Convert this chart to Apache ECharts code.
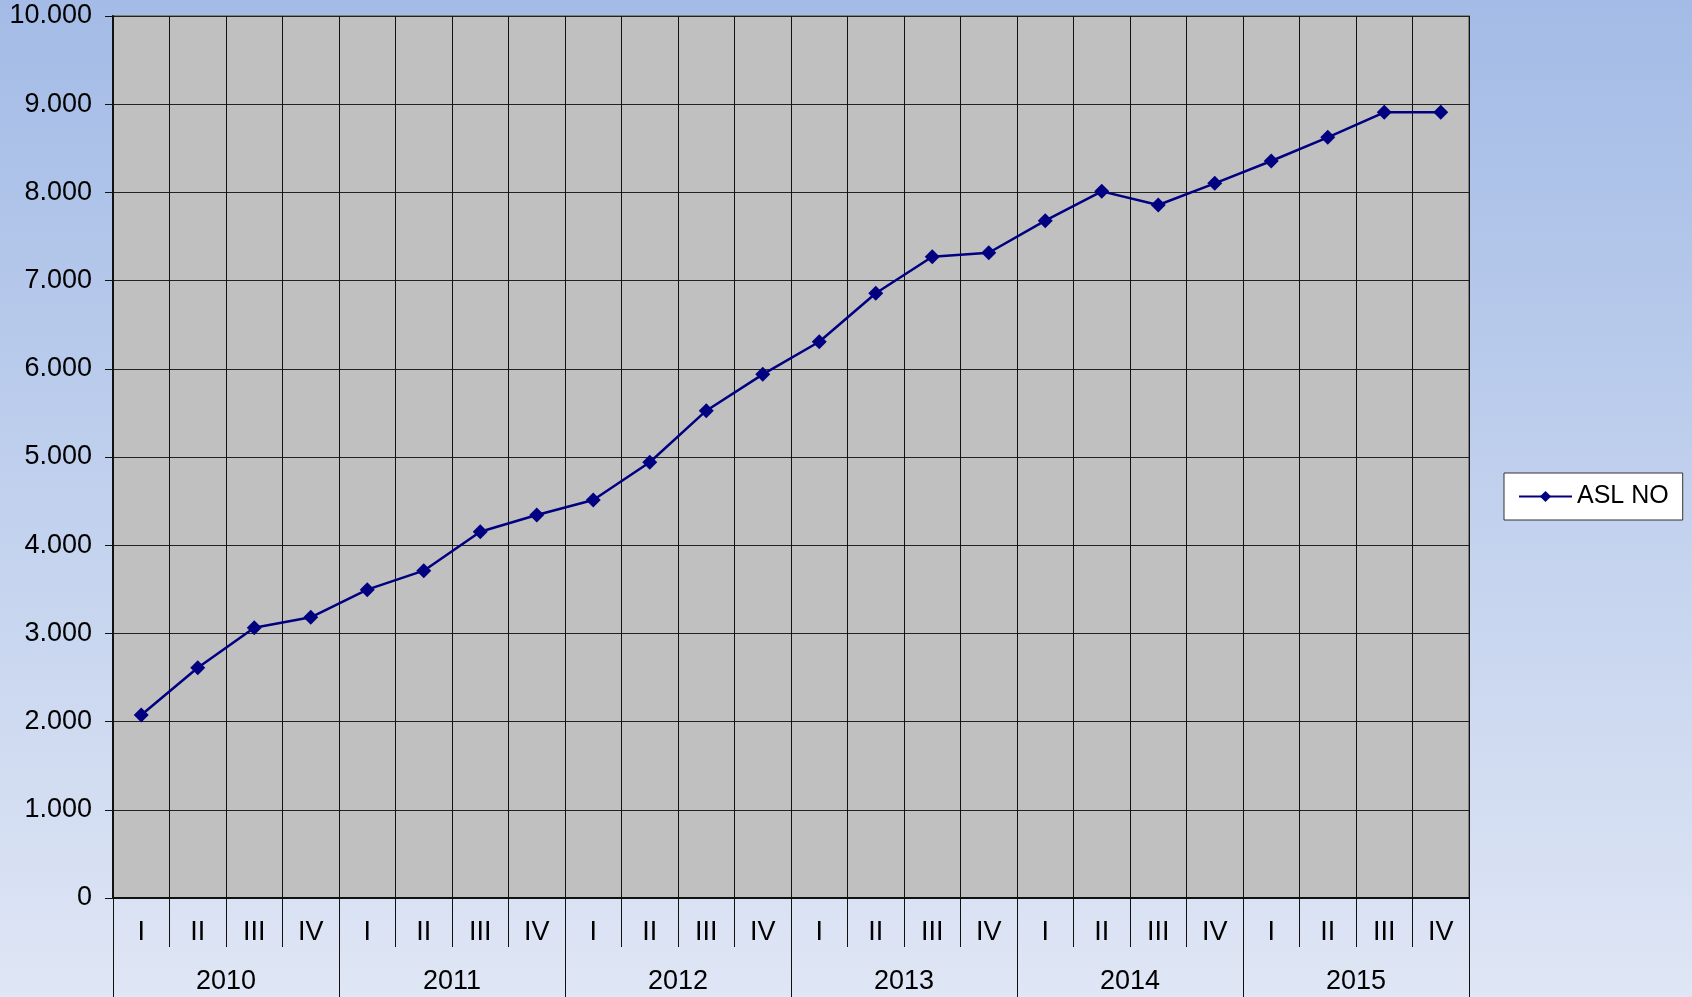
<!DOCTYPE html>
<html>
<head>
<meta charset="utf-8">
<script src="https://cdn.jsdelivr.net/npm/echarts@6/dist/echarts.min.js"></script>
<style>
html,body{margin:0;padding:0;}
#chart{width:1692px;height:997px;}
</style>
</head>
<body>
<div id="chart"></div>
<script>
const quarters = ['I','II','III','IV','I','II','III','IV','I','II','III','IV','I','II','III','IV','I','II','III','IV','I','II','III','IV'];
const years = ['2010','2011','2012','2013','2014','2015'];
const seriesName = 'ASL NO';
const values = [2075, 2610, 3065, 3182, 3496, 3711, 4153, 4342, 4512, 4940, 5525, 5937, 6307, 6856, 7271, 7316, 7679, 8012, 7857, 8103, 8356, 8624, 8908, 8908];
const yTicks = { min: 0, max: 10000, interval: 1000 };

const font = "'Liberation Sans', Arial, sans-serif";
const chart = echarts.init(document.getElementById('chart'), null, {renderer: 'canvas'});
chart.setOption({
  animation: false,
  backgroundColor: {
    type: 'linear', x: 0, y: 0, x2: 0, y2: 1,
    colorStops: [{offset: 0, color: '#a3bbe6'}, {offset: 1, color: '#dfe6f5'}]
  },
  textStyle: {fontFamily: font},
  grid: {
    left: 113, right: 223, top: 16, bottom: 99,
    show: true, backgroundColor: '#c0c0c0', borderColor: '#808080', borderWidth: 2
  },
  legend: {
    left: 1504, top: 473,
    orient: 'vertical',
    backgroundColor: '#ffffff', borderColor: '#333333', borderWidth: 1,
    padding: [11, 14, 11, 14],
    itemWidth: 53, itemHeight: 14, itemGap: 0,
    textStyle: {fontSize: 25, color: '#000', fontFamily: font, padding: [0, 0, 0, 0]},
    data: [seriesName]
  },
  xAxis: [
    {
      type: 'category', data: quarters, position: 'bottom', boundaryGap: true,
      axisLine: {show: true, lineStyle: {color: '#111', width: 2}},
      axisTick: {show: true, interval: 0, length: 49, lineStyle: {color: '#111', width: 1}},
      axisLabel: {interval: 0, fontSize: 27, color: '#000', margin: 21, fontFamily: font},
      splitLine: {show: true, interval: 0, lineStyle: {color: '#111', width: 1}}
    },
    {
      type: 'category', data: years, position: 'bottom', boundaryGap: true,
      axisLine: {show: false},
      axisTick: {show: true, interval: 0, length: 99, lineStyle: {color: '#111', width: 1}},
      axisLabel: {interval: 0, fontSize: 27, color: '#000', margin: 70, fontFamily: font},
      splitLine: {show: false}
    }
  ],
  yAxis: {
    type: 'value', min: yTicks.min, max: yTicks.max, interval: yTicks.interval,
    axisLine: {show: true, lineStyle: {color: '#111', width: 2}},
    axisTick: {show: true, length: 8, lineStyle: {color: '#111', width: 1}},
    axisLabel: {
      fontSize: 27, color: '#000', margin: 21, fontFamily: font,
      formatter: v => String(v).replace(/\B(?=(\d{3})+(?!\d))/g, '.')
    },
    splitLine: {show: true, lineStyle: {color: '#222', width: 1}}
  },
  series: [{
    name: seriesName, type: 'line', xAxisIndex: 0, data: values,
    symbol: 'diamond', symbolSize: 15, showSymbol: true,
    lineStyle: {color: '#000080', width: 2.5},
    itemStyle: {color: '#000080'}
  }]
});
</script>
</body>
</html>
